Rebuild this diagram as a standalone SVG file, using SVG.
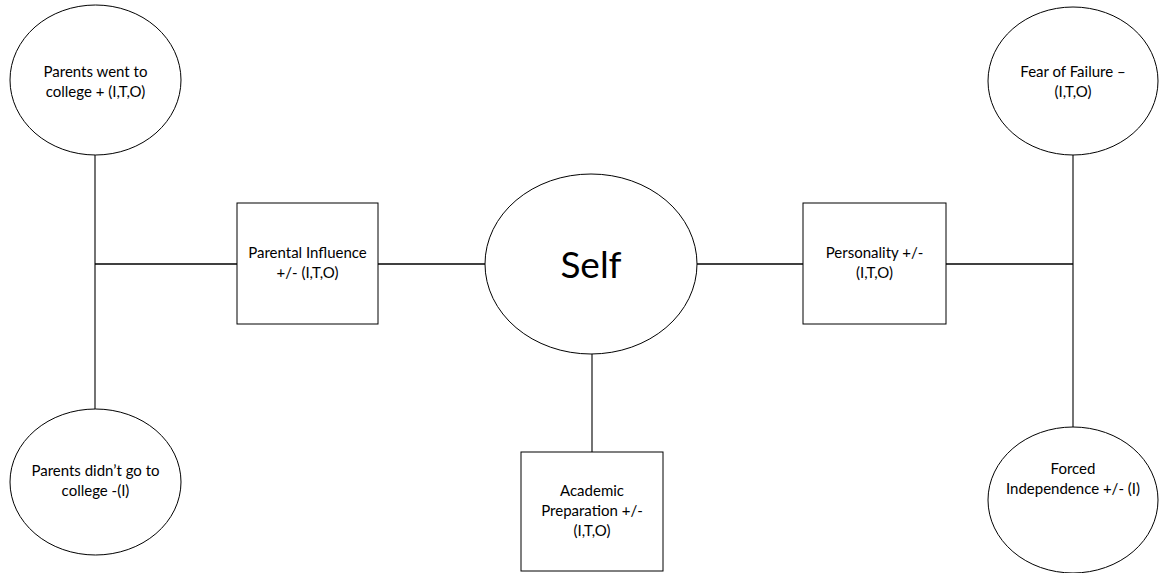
<svg xmlns="http://www.w3.org/2000/svg" width="1162" height="573" viewBox="0 0 1162 573">
<style>
.shape{fill:#ffffff;stroke:#000000;stroke-width:1}
.conn{stroke:#000000;fill:none}
.h{stroke-width:1.6}
.v{stroke-width:1.1}
text{font-family:Lato,"Open Sans","Liberation Sans",sans-serif;font-size:15px;fill:#000000;text-anchor:middle}
.big{font-size:37px}
</style>
<rect width="1162" height="573" fill="#ffffff"/>
<g id="connectors">
<line class="conn v" x1="95" y1="155" x2="95" y2="409"/>
<line class="conn h" x1="95" y1="264" x2="237" y2="264"/>
<line class="conn h" x1="378" y1="264" x2="485" y2="264"/>
<line class="conn h" x1="697" y1="264" x2="803" y2="264"/>
<line class="conn h" x1="946" y1="264" x2="1073" y2="264"/>
<line class="conn v" x1="1073" y1="155" x2="1073" y2="427"/>
<line class="conn v" x1="592" y1="354" x2="592" y2="452"/>
</g>
<g id="parents-went">
<ellipse class="shape" cx="95.5" cy="80" rx="85.5" ry="75"/>
<text x="95.5" y="77">Parents went to</text>
<text x="95.5" y="97">college + (I,T,O)</text>
</g>
<g id="parents-didnt">
<ellipse class="shape" cx="95.5" cy="482" rx="85.5" ry="73"/>
<text x="95.5" y="476">Parents didn’t go to</text>
<text x="95.5" y="496">college -(I)</text>
</g>
<g id="parental-influence">
<rect class="shape" x="237" y="203" width="141" height="121"/>
<text x="307.5" y="258">Parental Influence</text>
<text x="307.5" y="278">+/- (I,T,O)</text>
</g>
<g id="self">
<ellipse class="shape" cx="591" cy="264" rx="106" ry="90"/>
<text class="big" x="591" y="278">Self</text>
</g>
<g id="personality">
<rect class="shape" x="803" y="203" width="143" height="121"/>
<text x="874.5" y="258">Personality +/-</text>
<text x="874.5" y="278">(I,T,O)</text>
</g>
<g id="academic">
<rect class="shape" x="521" y="452" width="142" height="119"/>
<text x="592" y="496">Academic</text>
<text x="592" y="516">Preparation +/-</text>
<text x="592" y="536">(I,T,O)</text>
</g>
<g id="fear">
<ellipse class="shape" cx="1073" cy="81" rx="85" ry="74"/>
<text x="1073" y="77">Fear of Failure –</text>
<text x="1073" y="97">(I,T,O)</text>
</g>
<g id="forced">
<ellipse class="shape" cx="1073" cy="500" rx="85" ry="73"/>
<text x="1073" y="474">Forced</text>
<text x="1073" y="494">Independence +/- (I)</text>
</g>
</svg>
